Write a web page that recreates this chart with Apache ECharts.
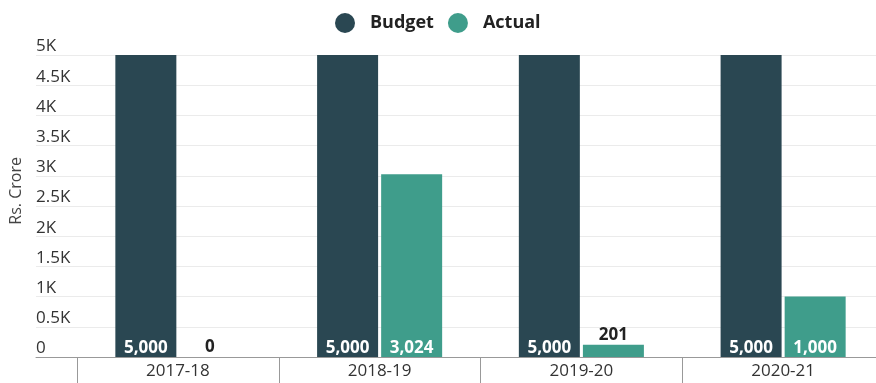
<!DOCTYPE html>
<html>
<head>
<meta charset="utf-8">
<script src="https://cdn.jsdelivr.net/npm/echarts@6/dist/echarts.min.js"></script>
<style>
  html, body { margin: 0; padding: 0; background: #fff; overflow: hidden; }
  /* the plot runs a few pixels past the right edge of the window */
  #chart { width: 884px; height: 383px; }
</style>
</head>
<body>
<div id="chart"></div>
<script>
// Budget vs actual allocation, Rs. crore per fiscal year
var categories = ['2017-18', '2018-19', '2019-20', '2020-21'];
var budgetValues = [5000, 5000, 5000, 5000];
var actualValues = [0, 3024, 201, 1000];
var yTicks = [0, 500, 1000, 1500, 2000, 2500, 3000, 3500, 4000, 4500, 5000];

var FONT = '"Open Sans", "DejaVu Sans", sans-serif';
var BUDGET_COLOR = '#2a4752';
var ACTUAL_COLOR = '#3f9d8b';

function fmtK(v) {
  return v === 0 ? '0' : (v / 1000) + 'K';
}
function fmtNum(v) {
  return v.toLocaleString('en-US');
}
// Tall bars carry their value inside at the base; short bars get it on top.
function labelled(values) {
  return values.map(function (v) {
    var small = v < 600;
    return {
      value: v,
      label: small
        ? { position: 'top', color: '#222', distance: 1 }
        : { position: 'insideBottom', color: '#fff', distance: 0 }
    };
  });
}

var chart = echarts.init(document.getElementById('chart'), null, { renderer: 'canvas' });

chart.setOption({
  animation: false,
  textStyle: { fontFamily: FONT },
  legend: {
    data: ['Budget', 'Actual'],
    left: 335,
    top: 13,
    padding: 0,
    icon: 'circle',
    itemWidth: 20,
    itemHeight: 20,
    itemGap: 14,
    textStyle: { fontFamily: FONT, fontSize: 18, fontWeight: 'bold', color: '#222', padding: [0, 0, 0, 10] }
  },
  graphic: [{
    type: 'text',
    left: 8,
    top: 157,
    rotation: Math.PI / 2,
    style: { text: 'Rs. Crore', font: '16px ' + FONT, fill: '#444' }
  }],
  grid: [
    // full-width frame carrying the value gridlines and baseline
    { left: 36, right: 0, top: 55, bottom: 26 },
    // plotting area for the bars
    { left: 77, right: 0, top: 55, bottom: 26 }
  ],
  xAxis: [
    {
      type: 'value', gridIndex: 0, min: 0, max: 1,
      axisLine: { show: true, lineStyle: { color: '#999', width: 1 } },
      axisTick: { show: false }, axisLabel: { show: false }, splitLine: { show: false }
    },
    {
      type: 'category', gridIndex: 1, data: categories,
      axisLine: { show: false },
      axisTick: { show: true, length: 28, lineStyle: { color: '#999' } },
      axisLabel: { fontFamily: FONT, fontSize: 17, color: '#333', margin: 6 }
    }
  ],
  yAxis: [
    {
      type: 'value', gridIndex: 0, min: yTicks[0], max: yTicks[yTicks.length - 1], interval: 500,
      axisLine: { show: false }, axisTick: { show: false },
      axisLabel: {
        inside: true, margin: 0, align: 'left', verticalAlign: 'bottom',
        padding: [0, 0, 0, 0], fontFamily: FONT, fontSize: 17, color: '#333',
        formatter: fmtK
      },
      splitLine: { lineStyle: { color: '#ebebeb', width: 1 } }
    },
    {
      type: 'value', gridIndex: 1, min: yTicks[0], max: yTicks[yTicks.length - 1], interval: 500,
      show: false
    }
  ],
  series: [
    {
      name: 'Budget', type: 'bar', xAxisIndex: 1, yAxisIndex: 1,
      data: labelled(budgetValues),
      barWidth: 61, barGap: '5%',
      itemStyle: { color: BUDGET_COLOR },
      label: { show: true, fontFamily: FONT, fontSize: 17, fontWeight: 'bold', formatter: function (p) { return fmtNum(p.value); } }
    },
    {
      name: 'Actual', type: 'bar', xAxisIndex: 1, yAxisIndex: 1,
      data: labelled(actualValues),
      barWidth: 61, barGap: '5%',
      itemStyle: { color: ACTUAL_COLOR },
      label: { show: true, fontFamily: FONT, fontSize: 17, fontWeight: 'bold', formatter: function (p) { return fmtNum(p.value); } }
    }
  ]
});
</script>
</body>
</html>
